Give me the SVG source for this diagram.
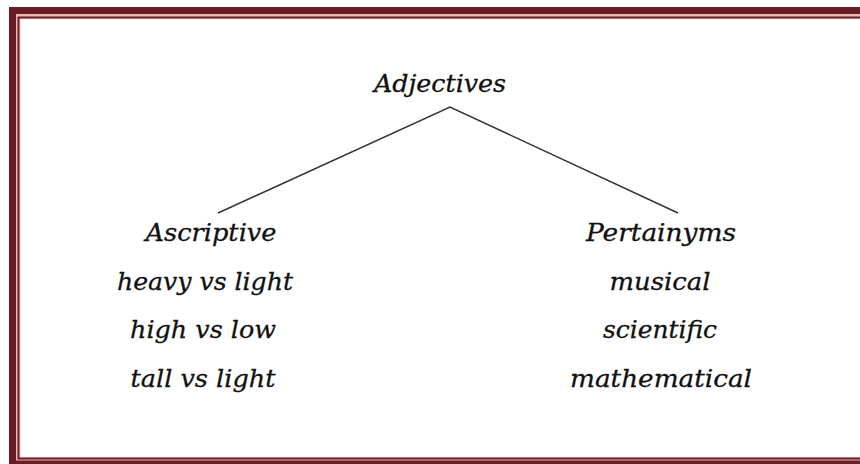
<svg xmlns="http://www.w3.org/2000/svg" width="860" height="464" viewBox="0 0 860 464">
<style>
.t{font-family:"DejaVu Serif","Liberation Serif",serif;font-style:italic;font-size:25px;fill:#111;stroke:#111;stroke-width:0.3;text-anchor:middle}
.c{stroke:#333;stroke-width:1.5;fill:none}
</style>
<rect x="0" y="0" width="860" height="464" fill="#ffffff"/>
<g id="frame">
<rect x="9" y="7" width="900" height="500" fill="#6a1d22"/>
<rect x="16" y="14" width="900" height="446.5" fill="#e9b8b6"/>
<rect x="17.5" y="16.5" width="900" height="443" fill="#6a1d22"/>
<rect x="19.5" y="18.5" width="900" height="439" fill="#efd6d4"/>
<rect x="20.5" y="19.5" width="900" height="437.5" fill="#ffffff"/>
</g>
<g id="connectors">
<polyline class="c" points="218,213 450,107 678,213"/>
</g>
<g id="adjectives"><text class="t" x="440" y="92" textLength="132" lengthAdjust="spacingAndGlyphs">Adjectives</text></g>
<g id="ascriptive">
<text class="t" x="211" y="241" textLength="131" lengthAdjust="spacingAndGlyphs">Ascriptive</text>
<text class="t" x="205" y="290" textLength="176" lengthAdjust="spacingAndGlyphs">heavy vs light</text>
<text class="t" x="203" y="338" textLength="146" lengthAdjust="spacingAndGlyphs">high vs low</text>
<text class="t" x="203" y="387" textLength="145" lengthAdjust="spacingAndGlyphs">tall vs light</text>
</g>
<g id="pertainyms">
<text class="t" x="661" y="241" textLength="150" lengthAdjust="spacingAndGlyphs">Pertainyms</text>
<text class="t" x="660" y="290" textLength="101" lengthAdjust="spacingAndGlyphs">musical</text>
<text class="t" x="660" y="338" textLength="114" lengthAdjust="spacingAndGlyphs">scientific</text>
<text class="t" x="661" y="387" textLength="182" lengthAdjust="spacingAndGlyphs">mathematical</text>
</g>
</svg>
